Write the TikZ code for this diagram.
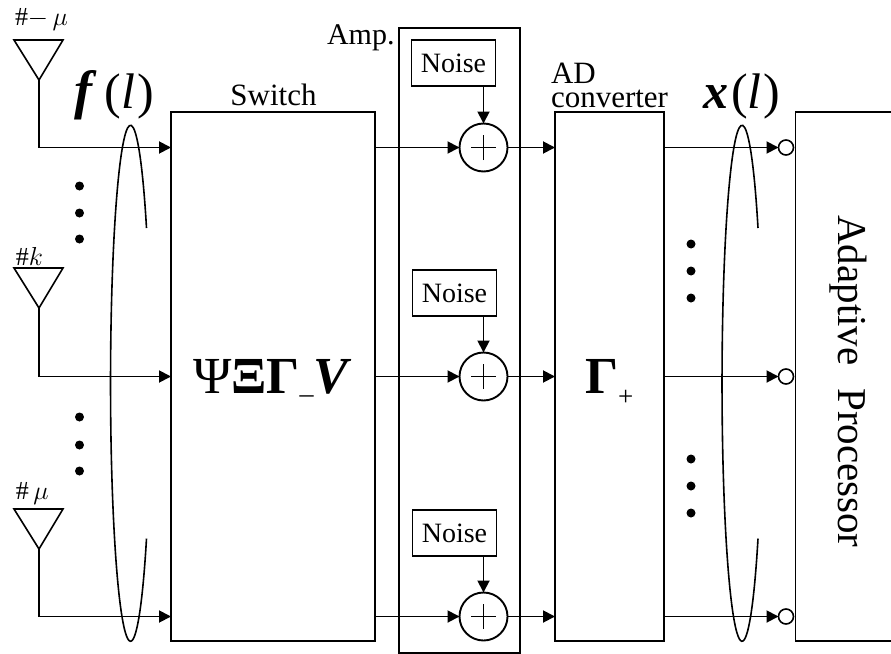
\RequirePackage{fix-cm}
\documentclass[tikz,border=0pt]{standalone}
\usepackage{fontspec}
\setmainfont{Liberation Serif}
\usetikzlibrary{arrows.meta}
\newcommand{\fsz}[1]{\fontsize{#1}{#1}\selectfont}
\tikzset{
  wire/.style={line width=1.9pt},
  arrowwire/.style={line width=1.9pt,-{Triangle[length=12pt,width=12pt]}},
  blockbox/.style={draw,line width=1.9pt,inner sep=0pt,outer sep=0pt},
  noisebox/.style={draw,line width=1.9pt,inner sep=0pt,outer sep=0pt,minimum width=84pt,minimum height=46pt,font=\fsz{28}},
  adder/.style={draw,circle,line width=1.9pt,inner sep=0pt,outer sep=0pt,minimum size=48pt,fill=white},
  portc/.style={draw,circle,line width=1.6pt,inner sep=0pt,outer sep=0pt,minimum size=15pt,fill=white},
  dotn/.style={fill=black,circle,inner sep=0pt,minimum size=9pt},
  lab/.style={inner sep=0pt,outer sep=0pt,font=\fsz{30}},
  ant/.style={line width=1.6pt,line join=miter},
  beam/.style={line width=1.6pt},
  plussign/.style={line width=1.6pt}
}
\begin{document}
\begin{tikzpicture}[x=1pt,y=-1pt]
\useasboundingbox (0,0) rectangle (891,653);
% blocks
\node[blockbox,minimum width=204pt,minimum height=529pt] (sw) at (273,376.5) {};
\node[blockbox,minimum width=121pt,minimum height=625pt] (amp) at (459.5,340.5) {};
\node[blockbox,minimum width=109pt,minimum height=529pt] (ad) at (609.5,376.5) {};
\node[inner sep=0pt,outer sep=0pt,minimum width=95.5pt,minimum height=529pt] (proc) at (843.25,376.5) {};
\draw[wire] (proc.north east) -- (proc.north west) -- (proc.south west) -- (proc.south east);
% noise
\node[noisebox] (n1) at (453.5,63) {Noise};
\node[noisebox] (n2) at (454.5,293) {Noise};
\node[noisebox] (n3) at (454.5,533) {Noise};
% adders
\node[adder] (s1) at (483.5,147.5) {};
\node[adder] (s2) at (483.5,376.5) {};
\node[adder] (s3) at (483.5,616.5) {};
\foreach \s in {s1,s2,s3}{
  \draw[plussign] ([xshift=-12.5pt]\s.center) -- ([xshift=12.5pt]\s.center);
  \draw[plussign] ([yshift=-12.5pt]\s.center) -- ([yshift=12.5pt]\s.center);
}
% noise to adder
\draw[arrowwire] (n1.south -| s1) -- (s1.north);
\draw[arrowwire] (n2.south -| s2) -- (s2.north);
\draw[arrowwire] (n3.south -| s3) -- (s3.north);
% switch to adder, adder to AD
\foreach \s in {s1,s2,s3}{
  \draw[arrowwire] (sw.east |- \s.center) -- (\s.west);
  \draw[arrowwire] (\s.east) -- (ad.west |- \s.center);
}
% ports
\node[portc] (p1) at (786,147.5) {};
\node[portc] (p2) at (786,376.5) {};
\node[portc] (p3) at (786,616.5) {};
\foreach \p in {p1,p2,p3}{
  \draw[arrowwire] (ad.east |- \p.center) -- (\p.west);
}
% antennas
\coordinate (a1) at (39,80);
\coordinate (a2) at (39,308);
\coordinate (a3) at (39,549);
\foreach \a/\s in {a1/s1,a2/s2,a3/s3}{
  \draw[ant] ([xshift=-25pt,yshift=40pt]\a) -- ([xshift=24pt,yshift=40pt]\a) -- (\a) -- cycle;
  \draw[arrowwire] (\a) |- (sw.west |- \s.center);
}
% dots
\foreach \y in {186,213,239,417,445,471}{\node[dotn] at (79.5,\y) {};}
\foreach \y in {244,271,298,459,486,513}{\node[dotn] at (691,\y) {};}
% beams
\draw[beam] (146.5,228) arc[start angle=-37,end angle=-323,x radius=20pt,y radius=-258pt];
\draw[beam] (758,228) arc[start angle=-37,end angle=-323,x radius=20pt,y radius=-258pt];
% labels
\node[lab,anchor=base west] (lm) at (15,25) {\fsz{26}$\#{-}\,\mu$};
\node[lab,anchor=base west] (lk) at (16,265) {\fsz{26}$\#k$};
\node[lab,anchor=base west] (lp) at (16,499) {\fsz{26}$\#\,\mu$};
\node[lab,anchor=base west] (lf) at (74,108) {\fsz{54}\textbf{\textit{f}}\hspace{8pt}\fsz{50}(\textit{l}\hspace{2pt})};
\node[lab,anchor=base west] (lx) at (703,108) {\fsz{50}\textbf{\textit{x}}\hspace{3pt}(\textit{l}\hspace{2pt})};
\node[lab,anchor=base,font=\fsz{31}] (lsw) at (273.5,105) {Switch};
\node[lab,anchor=base west,font=\fsz{30}] (lamp) at (327,44) {Amp.};
\node[lab,anchor=base west,align=left,font=\fontsize{31}{24}\selectfont] (lconv) at (551,107) {AD\\converter};
\node[lab,anchor=base] (lsym) at (272.5,393) {\fsz{52}Ψ\textbf{ΞΓ}{\fsz{28}\raisebox{0pt}{\_}}\textbf{\textit{V}}};
\node[lab,anchor=base west] (lgam) at (585,393) {\fsz{52}\textbf{Γ}\raisebox{-12pt}{\fsz{27}\hspace{0pt}+}};
\node[lab,rotate=-90,font=\fsz{41}] (lproc) at (848,381.5) {Adaptive\hspace{0.3em} Processor};
\end{tikzpicture}
\end{document}
